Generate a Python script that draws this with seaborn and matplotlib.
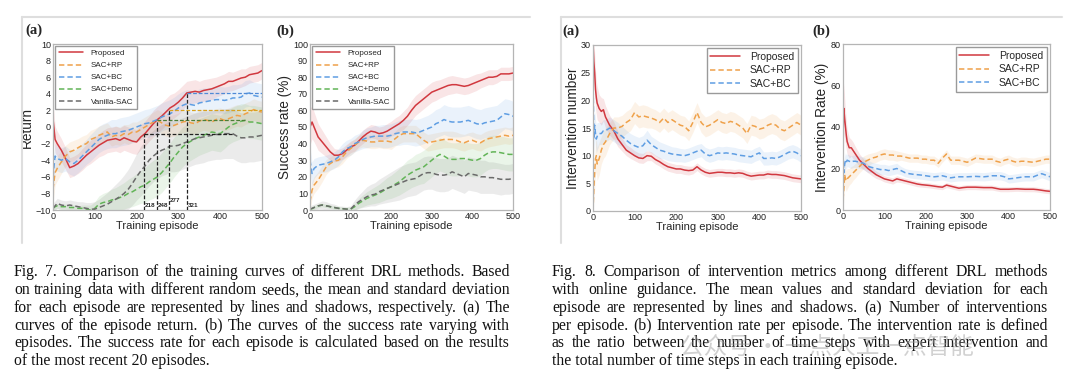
import matplotlib
matplotlib.use('agg')
import numpy as np
import pandas as pd
import matplotlib.pyplot as plt
from matplotlib.lines import Line2D
import seaborn as sns

sns.set_style('white')
plt.rcParams['font.family'] = ['Liberation Sans', 'DejaVu Sans']

# ---------------- data ----------------
methods = ['Proposed', 'SAC+RP', 'SAC+BC', 'SAC+Demo', 'Vanilla-SAC']
colors = {'Proposed': '#d1383f', 'SAC+RP': '#efa14a', 'SAC+BC': '#5f9ee3',
          'SAC+Demo': '#62b457', 'Vanilla-SAC': '#6a6a6a'}

# fig 7 episodes (0, 5, 10, then every 10)
ep7 = [0, 5, 10,
       20, 30, 40, 50, 60, 70, 80, 90, 100, 110,
       120, 130, 140, 150, 160, 170, 180, 190, 200, 210,
       220, 230, 240, 250, 260, 270, 280, 290, 300, 310,
       320, 330, 340, 350, 360, 370, 380, 390, 400, 410,
       420, 430, 440, 450, 460, 470, 480, 490, 500]

# (a) episode return
ret_proposed = [1.0, -1.5, -2.0,
                -2.8, -3.8, -4.9, -4.7, -4.4, -3.9, -3.4, -3.0, -2.6, -2.2,
                -1.9, -1.6, -1.5, -1.4, -1.6, -1.3, -1.5, -1.7, -1.8, -1.2,
                -0.8, -0.2, 0.4, 0.9, 1.3, 1.8, 2.3, 2.6, 3.0, 3.5,
                4.1, 4.2, 4.3, 4.2, 4.4, 4.5, 4.6, 4.8, 5.0, 5.2,
                5.5, 5.5, 5.7, 5.9, 6.0, 6.3, 6.4, 6.5, 6.8]
ret_proposed_sd = [2.0, 1.6, 1.5,
                   1.4, 1.3, 1.2, 1.2, 1.2, 1.3, 1.3, 1.4, 1.4, 1.4,
                   1.5, 1.5, 1.5, 1.5, 1.5, 1.5, 1.5, 1.5, 1.5, 1.5,
                   1.5, 1.5, 1.6, 1.6, 1.6, 1.6, 1.6, 1.5, 1.5, 1.5,
                   1.4, 1.4, 1.4, 1.3, 1.3, 1.3, 1.3, 1.2, 1.2, 1.2,
                   1.2, 1.1, 1.1, 1.1, 1.0, 1.0, 1.0, 1.0, 1.0]
ret_rp = [-7.5, -5.5, -5.0,
          -4.2, -3.5, -3.0, -2.8, -2.5, -2.2, -2.0, -1.5, -1.3, -1.0,
          -0.8, -0.6, -1.2, -1.0, -1.1, -0.8, -0.9, -0.6, -0.6, -0.3,
          0.0, 0.3, 0.6, 0.8, 0.5, 0.2, 0.1, 0.2, 0.4, 0.6,
          0.7, 0.5, 0.4, 0.7, 0.9, 0.8, 0.6, 0.9, 1.0, 0.8,
          1.0, 1.2, 1.4, 1.3, 1.6, 1.8, 2.1, 1.9, 1.8]
ret_rp_sd = [1.6, 1.5, 1.5,
             1.4, 1.3, 1.2, 1.2, 1.1, 1.1, 1.1, 1.1, 1.1, 1.1,
             1.1, 1.1, 1.1, 1.1, 1.1, 1.1, 1.2, 1.2, 1.2, 1.2,
             1.2, 1.2, 1.2, 1.3, 1.3, 1.3, 1.3, 1.3, 1.3, 1.3,
             1.3, 1.3, 1.3, 1.3, 1.3, 1.3, 1.3, 1.3, 1.3, 1.3,
             1.3, 1.3, 1.3, 1.3, 1.3, 1.3, 1.3, 1.3, 1.3]
ret_bc = [-6.0, -3.5, -3.8,
          -4.0, -3.8, -4.2, -4.4, -4.0, -3.5, -3.0, -2.5, -2.0, -1.5,
          -1.2, -1.0, -0.8, -0.8, -0.6, -0.5, -0.4, -0.2, 0.0, 0.2,
          0.4, 0.5, 0.7, 0.9, 1.2, 1.4, 1.6, 1.9, 2.3, 2.6,
          2.8, 2.7, 2.6, 2.9, 3.0, 3.1, 3.2, 3.3, 3.3, 3.2,
          3.3, 3.5, 3.5, 3.6, 4.0, 4.1, 3.8, 3.7, 3.6]
ret_bc_sd = [1.8, 1.6, 1.5,
             1.5, 1.5, 1.5, 1.5, 1.5, 1.5, 1.5, 1.6, 1.6, 1.6,
             1.6, 1.6, 1.7, 1.7, 1.7, 1.7, 1.7, 1.7, 1.7, 1.7,
             1.7, 1.7, 1.7, 1.7, 1.7, 1.7, 1.7, 1.7, 1.7, 1.7,
             1.7, 1.7, 1.7, 1.7, 1.7, 1.6, 1.6, 1.6, 1.6, 1.6,
             1.6, 1.6, 1.6, 1.6, 1.6, 1.6, 1.6, 1.6, 1.6]
ret_demo = [-9.8, -9.6, -9.5,
            -9.6, -9.6, -9.7, -9.7, -9.8, -9.8, -9.9, -10.0, -9.8, -9.3,
            -9.1, -9.0, -8.8, -8.7, -8.5, -8.3, -8.0, -7.8, -7.5, -7.2,
            -7.0, -6.6, -6.3, -6.0, -5.5, -4.9, -4.3, -3.6, -3.0, -2.4,
            -2.0, -1.7, -1.4, -1.2, -1.0, -0.8, -0.6, -0.7, -0.8, -0.4,
            0.0, 0.3, 0.5, 0.7, 0.8, 0.6, 0.6, 0.5, 0.4]
ret_demo_sd = [0.3, 0.3, 0.3,
               0.3, 0.3, 0.3, 0.3, 0.3, 0.4, 0.5, 0.6, 0.8, 1.0,
               1.1, 1.2, 1.3, 1.4, 1.5, 1.6, 1.7, 1.8, 1.9, 2.0,
               2.1, 2.2, 2.3, 2.3, 2.4, 2.4, 2.4, 2.4, 2.4, 2.4,
               2.3, 2.3, 2.3, 2.2, 2.2, 2.2, 2.2, 2.2, 2.2, 2.2,
               2.1, 2.1, 2.1, 2.1, 2.0, 2.0, 2.0, 2.0, 2.0]
ret_vanilla = [-9.8, -9.5, -9.2,
               -9.4, -9.5, -9.4, -9.5, -9.6, -9.7, -9.8, -9.9, -9.9, -9.7,
               -9.5, -9.3, -9.0, -8.7, -8.4, -8.0, -7.5, -6.8, -6.0, -5.3,
               -4.7, -4.0, -3.5, -3.1, -2.8, -2.6, -2.3, -2.3, -2.2, -2.0,
               -1.8, -1.6, -1.4, -1.3, -1.2, -1.1, -1.0, -0.9, -0.9, -0.8,
               -0.8, -0.8, -1.1, -1.3, -1.3, -1.2, -1.2, -1.1, -1.0]
ret_vanilla_sd = [0.6, 0.6, 0.6,
                  0.6, 0.6, 0.6, 0.6, 0.6, 0.7, 0.7, 0.8, 0.9, 1.0,
                  1.2, 1.4, 1.6, 1.8, 2.0, 2.2, 2.4, 2.6, 2.8, 3.0,
                  3.0, 3.1, 3.1, 3.1, 3.1, 3.1, 3.1, 3.1, 3.1, 3.1,
                  3.1, 3.1, 3.1, 3.1, 3.1, 3.0, 3.0, 3.0, 3.0, 3.0,
                  3.0, 3.0, 3.0, 3.0, 3.0, 3.0, 3.0, 3.0, 3.0]

# crossing markers in (a)
cross_eps = [218, 248, 277, 321]
cross_levels = [-0.8, 0.8, 2.1, 4.1]
cross_ends = [430, 460, 500, 500]
cross_colors = ['#222222', '#4c7f36', '#d9a21f', '#4f8ad6']

# (b) success rate (%)
suc_proposed = [50, 53, 50,
                44, 41, 38, 35, 33, 33, 34, 36, 38, 39,
                41.5, 44, 46, 47.5, 47, 46, 46.5, 47.5, 49, 50.5,
                52, 54, 56.5, 60, 63, 65, 67, 69, 71, 72,
                73, 74, 75, 75.5, 75.5, 75, 74.5, 75, 76, 77,
                78, 79, 80, 80, 80.5, 82, 82, 82, 82.5]
suc_proposed_sd = [11, 10, 9,
                   8, 7, 6, 5, 4, 3.5, 3.5, 3.5, 3.5, 3.5,
                   3.5, 4, 4, 4, 4, 4, 4, 4.5, 4.5, 5,
                   5, 5.5, 5.5, 6, 6, 6, 6, 6, 6, 6,
                   5.5, 5.5, 5.5, 5.5, 5, 5, 5, 5, 5, 5,
                   4.5, 4.5, 4.5, 4.5, 4, 4, 4, 4, 4]
suc_rp = [5, 12, 15,
          18, 22, 26, 28, 29.5, 30, 32, 35, 37, 39,
          41, 42, 41.5, 41, 41, 41.5, 41.5, 41.5, 41, 43,
          45, 46, 46, 46, 46, 44, 42, 40.5, 41, 41.5,
          42, 42.5, 42.5, 42.5, 42, 41, 40.5, 41.5, 42, 41,
          40.5, 42, 43, 43.5, 44, 44.5, 45, 44.5, 45]
suc_rp_sd = [5, 5, 5,
             5, 5, 4.5, 4, 4, 4, 4, 4, 4, 4,
             4, 4, 4, 4, 4, 4, 4.5, 4.5, 4.5, 4.5,
             5, 5, 5, 5, 5, 5, 5, 5, 5, 5,
             5, 5, 5, 5, 5, 5, 5, 5, 5, 5,
             5, 5, 5, 5, 5, 5, 5, 5, 5]
suc_bc = [30, 22, 25,
          27, 27.5, 28, 29, 30, 32, 35, 37, 38, 40,
          41, 42.5, 43.5, 44, 44.5, 44.5, 44.5, 44.5, 45, 46,
          46.5, 47, 47, 47, 46.5, 47, 48, 49, 50, 52,
          53, 54.5, 53.5, 53, 53, 53, 53.5, 54, 53, 52,
          51.5, 52.5, 53, 53.5, 54, 56, 58, 57.5, 56.5]
suc_bc_sd = [8, 7, 6,
             5, 5, 5, 5, 5, 5, 5, 5, 5, 5,
             5, 5.5, 6, 6, 6.5, 6.5, 7, 7, 7, 7,
             7.5, 7.5, 7.5, 8, 8, 8, 8, 8, 8.5, 8.5,
             8.5, 9, 9, 9, 9, 9, 9, 9, 9, 9,
             9, 9, 9, 9, 9, 9, 9, 9, 9]
suc_demo = [0.5, 0.8, 1.5,
            2.5, 3, 2.5, 2, 1.5, 1, 0.8, 0.5, 0.5, 2,
            4, 5.5, 7, 8, 9, 10, 11.5, 13, 14, 15.5,
            17, 19, 21, 22.5, 24, 25, 26, 28, 30, 32,
            33.5, 32.5, 31, 30.5, 30.5, 31, 31, 30.5, 30, 30,
            31, 33, 34.5, 35, 35, 34.5, 34, 33.5, 33.5]
suc_demo_sd = [1, 1, 1,
               1, 1, 1, 1, 1, 1, 1, 1, 1.5, 2,
               3, 3.5, 4, 4.5, 5, 5.5, 6, 6.5, 7, 7.5,
               8, 8.5, 9, 9, 9.5, 9.5, 10, 10, 10, 10,
               10, 10, 10, 10, 10, 10, 10, 10, 10, 10,
               10, 10, 10, 10, 10, 10, 10, 10, 10]
suc_vanilla = [0.5, 1, 1.5,
               2.5, 3, 2.5, 2, 1.5, 1, 0.8, 0.5, 0.5, 3,
               5, 6.5, 8, 9, 9.5, 11, 12, 13, 14, 15,
               16, 17, 18, 18.5, 19, 20.5, 22, 22.5, 22.5, 21.5,
               21, 21, 21.5, 23, 22, 21, 20, 22, 21.5, 21,
               20, 20, 19.5, 19.5, 19, 18.5, 18.5, 18.5, 19]
suc_vanilla_sd = [2, 2, 2,
                  2, 2.5, 2.5, 2, 2, 1.5, 1.5, 1.5, 2, 3,
                  4, 5, 6, 6.5, 7, 7.5, 8, 8.5, 9, 9.5,
                  10, 10, 10, 10, 10, 10, 10, 10, 10, 10,
                  10, 10, 10, 10, 10, 10, 10, 10, 10, 10,
                  10, 10, 9.5, 9.5, 9.5, 9.5, 9, 9, 9]

# fig 8 episodes (dense at the start)
ep8 = [0, 2, 4, 6, 8, 10, 15, 20, 25, 30,
       40, 50, 60, 70, 80, 90, 100, 110, 120, 130,
       140, 150, 160, 170, 180, 190, 200, 210, 220, 230,
       240, 250, 260, 270, 280, 290, 300, 310, 320, 330,
       340, 350, 360, 370, 380, 390, 400, 410, 420, 430,
       440, 450, 460, 470, 480, 490, 500]

# (a) intervention number
num_proposed = [30.5, 27, 25, 22, 20.5, 19.5, 18.5, 18, 18.3, 17,
                15.5, 14.5, 13, 12, 11, 10.5, 10, 9.6, 9.5, 10,
                9.9, 9.3, 8.9, 8.4, 8.0, 7.8, 7.6, 7.6, 7.4, 7.3,
                7.4, 8.0, 7.4, 7.0, 6.8, 6.9, 7.0, 7.0, 6.9, 6.9,
                6.8, 6.9, 6.8, 6.5, 6.3, 6.4, 6.5, 6.5, 6.7, 6.6,
                6.6, 6.5, 6.4, 6.2, 6.0, 5.9, 5.8]
num_proposed_sd = [4, 4, 3.5, 3.5, 3, 3, 2.5, 2.5, 2, 2,
                   1.8, 1.6, 1.4, 1.2, 1.0, 1.0, 0.9, 0.9, 0.9, 0.9,
                   0.8, 0.8, 0.8, 0.8, 0.8, 0.8, 0.8, 0.8, 0.8, 0.8,
                   0.7, 0.7, 0.7, 0.7, 0.7, 0.7, 0.7, 0.7, 0.7, 0.7,
                   0.7, 0.7, 0.7, 0.7, 0.7, 0.7, 0.7, 0.7, 0.7, 0.7,
                   0.7, 0.7, 0.7, 0.7, 0.7, 0.7, 0.7]
num_rp = [0, 4, 7, 9.5, 10, 8.5, 9.5, 11, 12, 12.5,
          14, 15, 15, 15.3, 16, 16.5, 17.8, 17, 17.2, 17,
          16.8, 16.5, 16, 16.8, 16, 16.5, 16, 15.5, 15.3, 14.5,
          16, 17.8, 16, 15.2, 15.5, 16, 16.5, 16, 15.8, 16.2,
          16, 15.5, 15, 14, 15.5, 15.3, 14.8, 15, 15.5, 15.8,
          15.5, 14.8, 14.5, 15, 15.5, 16, 15.5]
num_rp_sd = [1, 2, 3, 3, 3, 3, 3, 2.5, 2.5, 2.5,
             2, 2, 2, 2, 2, 2, 2, 2, 2, 2,
             1.8, 1.8, 1.8, 1.8, 1.8, 1.8, 1.8, 1.8, 1.8, 1.8,
             1.8, 1.8, 1.8, 1.8, 1.8, 1.8, 1.8, 1.8, 1.8, 1.8,
             1.8, 1.8, 1.8, 1.8, 1.8, 1.8, 1.8, 1.8, 1.8, 1.8,
             1.8, 1.8, 1.8, 1.8, 1.8, 1.8, 1.8]
num_bc = [25, 13, 15.5, 14, 13, 13.5, 14, 14, 14.5, 14.5,
          15, 14.5, 14, 13.5, 12.8, 12.2, 11.8, 11.5, 11.8, 12.8,
          12, 11.5, 11, 10.8, 10.5, 10.3, 10.2, 10.1, 10, 10.2,
          10.5, 10.8, 11, 10.3, 10, 10.2, 10.5, 10.4, 10.5, 10.4,
          10.3, 10.1, 10, 9.9, 9.8, 10.2, 10.5, 9.5, 9.5, 9.6,
          9.5, 9.8, 10.2, 10.6, 10.8, 10.5, 10]
num_bc_sd = [3, 3, 2.5, 2.5, 2.5, 2.5, 2, 2, 2, 2,
             2, 2, 2, 1.8, 1.8, 1.8, 1.8, 1.8, 1.8, 1.8,
             1.5, 1.5, 1.5, 1.4, 1.4, 1.3, 1.3, 1.2, 1.2, 1.2,
             1.2, 1.2, 1.2, 1.2, 1.2, 1.2, 1.2, 1.2, 1.2, 1.2,
             1.2, 1.2, 1.2, 1.2, 1.2, 1.2, 1.2, 1.2, 1.2, 1.2,
             1.2, 1.2, 1.2, 1.2, 1.2, 1.2, 1.2]

# (b) intervention rate (%)
rate_proposed = [35, 49, 44, 40, 36, 33, 30, 30, 28.5, 27,
                 24, 22, 20, 18.5, 17, 16, 15, 14.5, 14, 15,
                 14.5, 14, 13.5, 13, 12.5, 12.2, 12, 11.8, 11.5, 11.2,
                 11, 12, 11.5, 11, 10.5, 10.8, 11, 11, 11, 10.9,
                 10.8, 10.8, 10.8, 10.4, 10, 10, 10, 10.1, 10.2, 10.1,
                 10, 10, 10, 9.8, 9.5, 9.2, 9]
rate_proposed_sd = [15, 12, 10, 8, 7, 6, 5, 4, 4, 3.5,
                    3, 2.5, 2, 2, 1.8, 1.5, 1.5, 1.5, 1.5, 1.5,
                    1.3, 1.3, 1.3, 1.3, 1.3, 1.2, 1.2, 1.2, 1.2, 1.2,
                    1.2, 1.2, 1.2, 1.2, 1.2, 1.2, 1.2, 1.2, 1.2, 1.2,
                    1.2, 1.2, 1.2, 1.2, 1.2, 1.2, 1.2, 1.2, 1.2, 1.2,
                    1.2, 1.2, 1.2, 1.2, 1.2, 1.2, 1.2]
rate_rp = [5, 10, 17, 15, 14, 15, 16, 17, 18, 19,
           21, 23, 24, 25, 25.5, 26.5, 27, 26.5, 26.5, 26,
           26, 25.5, 25, 25, 25, 24.5, 24.5, 24, 24, 22.5,
           25, 27, 24, 24, 24, 23.5, 23, 24, 25, 24.8,
           24.5, 24.5, 24.5, 23.5, 23, 24, 24.5, 23.5, 23, 23.5,
           23.5, 23.2, 23, 23.5, 24, 24.5, 24.5]
rate_rp_sd = [4, 5, 5, 5, 5, 5, 4, 4, 3.5, 3.5,
              3, 3, 3, 2.5, 2.5, 2.5, 2.5, 2.5, 2.5, 2.5,
              2, 2, 2, 2, 2, 2, 2, 2, 2, 2,
              2, 2, 2, 2, 2, 2, 2, 2, 2, 2,
              2, 2, 2, 2, 2, 2, 2, 2, 2, 2,
              2, 2, 2, 2, 2, 2, 2]
rate_bc = [27, 18, 22, 24, 23, 24, 23.5, 23, 23.5, 23.5,
           23, 22.5, 21, 20.5, 20, 19.5, 19.5, 19, 19.5, 20,
           19, 18, 17.5, 17.2, 17, 16.8, 16.5, 16.2, 16, 16.2,
           16.5, 16, 15.5, 15.8, 16, 16, 16, 16.1, 16.2, 16.1,
           16, 16.2, 16.5, 16.5, 16.5, 16, 15, 15.2, 15.5, 15.8,
           16, 16, 16, 16.8, 17.5, 16.8, 16]
rate_bc_sd = [5, 4, 4, 3.5, 3.5, 3, 3, 3, 3, 3,
              3, 3, 3, 2.5, 2.5, 2.5, 2.5, 2.5, 2.5, 2.5,
              2, 2, 2, 2, 2, 2, 2, 2, 2, 2,
              2, 2, 2, 2, 2, 2, 2, 2, 2, 2,
              2, 2, 2, 2, 2, 2, 2, 2, 2, 2,
              2, 2, 2, 2, 2, 2, 2]

caption7 = ["Fig. 7.  Comparison of the training curves of different DRL methods. Based",
            "on training data with different random seeds, the mean and standard deviation",
            "for each episode are represented by lines and shadows, respectively. (a) The",
            "curves of the episode return. (b) The curves of the success rate varying with",
            "episodes. The success rate for each episode is calculated based on the results",
            "of the most recent 20 episodes."]
caption8 = ["Fig. 8.  Comparison of intervention metrics among different DRL methods",
            "with online guidance. The mean values and standard deviation for each",
            "episode are represented by lines and shadows. (a) Number of interventions",
            "per episode. (b) Intervention rate per episode. The intervention rate is defined",
            "as the ratio between the number of time steps with expert intervention and",
            "the total number of time steps in each training episode."]
watermark = '公众号 · 一点人工一点智能'

# ---------------- plotting ----------------
W, H = 1080, 389
fig = plt.figure(figsize=(W / 100, H / 100), dpi=100)

def px_axes(l, t, r, b):
    return fig.add_axes([l / W, 1 - b / H, (r - l) / W, (b - t) / H])

dashes = {'Proposed': '', 'SAC+RP': (3.5, 2), 'SAC+BC': (3.5, 2),
          'SAC+Demo': (3.5, 2), 'Vanilla-SAC': (3.5, 2)}

def panel(ax, eps, series, ylim, yticks, ylabel, legend_kw):
    names = list(series.keys())
    frames = []
    for name in names:
        mean, sd = series[name]
        m, s = np.array(mean, float), np.array(sd, float)
        ax.fill_between(eps, m - s, m + s, color=colors[name], alpha=0.13, lw=0)
        frames.append(pd.DataFrame({'episode': eps, 'value': mean, 'method': name}))
    df = pd.concat(frames)
    sns.lineplot(data=df, x='episode', y='value', hue='method', style='method',
                 hue_order=names, style_order=names, palette=colors, dashes=dashes,
                 errorbar=None, lw=1.1, ax=ax)
    ax.set_xlim(0, 500)
    ax.set_ylim(*ylim)
    ax.set_xticks([0, 100, 200, 300, 400, 500])
    ax.set_yticks(yticks)
    ax.tick_params(labelsize=6.5, length=0, pad=1.5, colors='#222222')
    ax.set_xlabel('Training episode', fontsize=8, labelpad=0)
    ax.set_ylabel(ylabel, fontsize=9.8, labelpad=1)
    for sp in ax.spines.values():
        sp.set_color('#b5b5b5')
        sp.set_linewidth(0.9)
    h, l = ax.get_legend_handles_labels()
    ax.legend(h, l, fancybox=False, edgecolor='#9a9a9a', framealpha=1, **legend_kw)

leg7 = dict(loc='upper left', fontsize=5.8, handlelength=3.0, labelspacing=0.55,
            borderpad=0.4, handletextpad=1.0, borderaxespad=0.3)
leg8 = dict(loc='upper right', fontsize=7.5, handlelength=2.8, labelspacing=0.35,
            borderpad=0.35, handletextpad=1.0, borderaxespad=0.3)

ax1 = px_axes(53, 44, 262, 210)
panel(ax1, ep7, {'Proposed': (ret_proposed, ret_proposed_sd),
                 'SAC+RP': (ret_rp, ret_rp_sd),
                 'SAC+BC': (ret_bc, ret_bc_sd),
                 'SAC+Demo': (ret_demo, ret_demo_sd),
                 'Vanilla-SAC': (ret_vanilla, ret_vanilla_sd)},
      (-10, 10), range(-10, 11, 2), 'Return', leg7)
for e, lv, end, c in zip(cross_eps, cross_levels, cross_ends, cross_colors):
    ax1.plot([e, end], [lv, lv], color=c, ls=(0, (3, 1.5)), lw=0.9, zorder=5)
    ax1.plot([e, e], [-10, lv], color='#222222', ls=(0, (3, 1.5)), lw=0.9, zorder=5)
for e, dy in zip(cross_eps, [0.25, 0.25, 0.9, 0.3]):
    ax1.text(e + 2, -10 + dy, str(e), fontsize=4.5, fontweight='bold', va='bottom', ha='left')

ax2 = px_axes(310, 44, 513, 210)
panel(ax2, ep7, {'Proposed': (suc_proposed, suc_proposed_sd),
                 'SAC+RP': (suc_rp, suc_rp_sd),
                 'SAC+BC': (suc_bc, suc_bc_sd),
                 'SAC+Demo': (suc_demo, suc_demo_sd),
                 'Vanilla-SAC': (suc_vanilla, suc_vanilla_sd)},
      (0, 100), range(0, 101, 10), 'Success rate (%)', leg7)

ax3 = px_axes(593, 45, 801, 211)
panel(ax3, ep8, {'Proposed': (num_proposed, num_proposed_sd),
                 'SAC+RP': (num_rp, num_rp_sd),
                 'SAC+BC': (num_bc, num_bc_sd)},
      (0, 30), range(0, 31, 5), 'Intervention number', leg8)

ax4 = px_axes(843, 44, 1050, 210)
panel(ax4, ep8, {'Proposed': (rate_proposed, rate_proposed_sd),
                 'SAC+RP': (rate_rp, rate_rp_sd),
                 'SAC+BC': (rate_bc, rate_bc_sd)},
      (0, 80), range(0, 81, 20), 'Intervention Rate (%)', leg8)

# panel letters
for x, y, s in [(25, 30, '(a)'), (276, 31, '(b)'), (562, 31, '(a)'), (812, 31, '(b)')]:
    fig.text(x / W, 1 - y / H, s, fontsize=10.5, fontweight='bold',
             family='Liberation Serif', va='center', ha='left')

# light frame lines of the two figure screenshots
for xs, ys in [([22, 530], [17, 17]), ([22, 22], [17, 243]),
               ([561, 1062], [17, 17]), ([561, 561], [17, 243])]:
    fig.add_artist(Line2D([x / W for x in xs], [1 - y / H for y in ys],
                          color='#dedede', lw=1.5))

# captions, justified
renderer = fig.canvas.get_renderer()
def caption(lines, x0, x1, y0, dy, size=11.3):
    kw = dict(fontsize=size, family='Liberation Serif', color='#111111', va='baseline')
    for i, line in enumerate(lines):
        y = 1 - (y0 + i * dy) / H
        if i == len(lines) - 1:
            fig.text(x0 / W, y, line, **kw)
            continue
        words = line.split()
        texts = [fig.text(0, y, w, **kw) for w in words]
        widths = [t.get_window_extent(renderer).width for t in texts]
        gap = (x1 - x0 - sum(widths)) / (len(words) - 1)
        x = x0
        for t, w in zip(texts, widths):
            t.set_x(x / W)
            x += w + gap

caption(caption7, 14, 510, 276.5, 17.7)
caption(caption8, 552, 1048, 276.5, 17.7)

fig.text(680 / W, 1 - 347 / H, watermark, family=['Noto Sans CJK SC', 'DejaVu Sans'],
         fontsize=17, color='#9a9a9a', alpha=0.45, va='center', ha='left')

fig.savefig('out.png', dpi=100)
